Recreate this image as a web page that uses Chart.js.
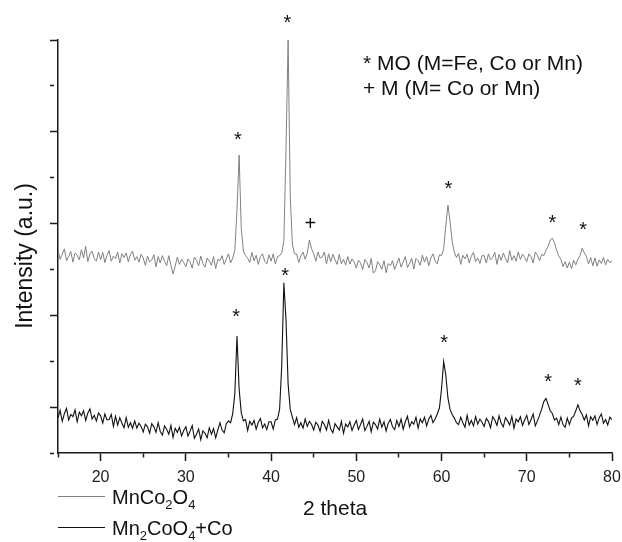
<!DOCTYPE html>
<html>
<head>
<meta charset="utf-8">
<script src="https://cdn.jsdelivr.net/npm/chart.js@4.4.1/dist/chart.umd.min.js"></script>
<style>
  body { margin: 0; background: #fff; }
  #wrap { width: 622px; height: 542px; }
</style>
</head>
<body>
<div id="wrap"><canvas id="xrd"></canvas></div>
<script>
// 2 theta grid of both scans (degrees)
const angleStart = 15;
const angleStep = 0.25;

// MnCo2O4, shifted up on the intensity axis (one degree per group of four)
const mnCo2O4 = [
  4.42, 4.22, 4.33, 4.45,  4.19, 4.28, 4.39, 4.16,  4.36, 4.31, 4.21, 4.43,  4.25, 4.50, 4.17, 4.34,  4.40, 4.24, 4.18, 4.38,
  4.21, 4.37, 4.15, 4.31,  4.41, 4.18, 4.29, 4.24,  4.38, 4.14, 4.34, 4.26,  4.36, 4.17, 4.32, 4.40,  4.20, 4.28, 4.16, 4.33,
  4.25, 4.09, 4.29, 4.16,  4.21, 4.32, 4.06, 4.28,  4.14, 4.30, 4.18, 4.08,  4.30, 4.09, 3.90, 4.07,  4.27, 4.11, 4.22, 4.15,
  4.06, 4.23, 4.17, 4.03,  4.27, 4.20, 4.08, 4.29,  4.13, 4.05, 4.25, 4.18,  4.09, 4.28, 4.02, 4.22,  4.19, 4.30, 4.11, 4.23,
  4.34, 4.14, 4.25, 4.42,  5.30, 6.49, 4.90, 4.40,  4.30, 4.25, 4.15, 4.37,  4.19, 4.31, 4.11, 4.28,  4.34, 4.18, 4.12, 4.32,
  4.18, 4.34, 4.12, 4.28,  4.30, 4.36, 4.62, 6.60,  9.00, 5.60, 4.55, 4.34,  4.34, 4.15, 4.30, 4.38,  4.22, 4.36, 4.64, 4.45,
  4.34, 4.18, 4.38, 4.25,  4.27, 4.38, 4.12, 4.34,  4.17, 4.33, 4.21, 4.11,  4.33, 4.12, 4.22, 4.10,  4.28, 4.12, 4.23, 4.16,
  4.03, 4.20, 4.14, 4.00,  4.22, 4.15, 4.03, 4.24,  3.92, 3.97, 4.17, 4.10,  4.00, 4.19, 3.93, 4.13,  4.08, 4.19, 4.00, 4.12,
  4.25, 4.05, 4.16, 4.28,  4.04, 4.13, 4.24, 4.01,  4.24, 4.19, 4.09, 4.31,  4.16, 4.28, 4.08, 4.25,  4.34, 4.18, 4.12, 4.32,
  4.30, 4.45, 4.95, 5.40,  5.05, 4.60, 4.38, 4.26,  4.35, 4.11, 4.31, 4.23,  4.33, 4.14, 4.29, 4.37,  4.17, 4.25, 4.13, 4.30,
  4.30, 4.14, 4.34, 4.21,  4.26, 4.37, 4.11, 4.33,  4.20, 4.36, 4.24, 4.14,  4.41, 4.20, 4.30, 4.18,  4.38, 4.22, 4.33, 4.26,
  4.17, 4.34, 4.28, 4.14,  4.38, 4.31, 4.19, 4.33,  4.30, 4.42, 4.50, 4.64,  4.68, 4.58, 4.42, 4.30,  4.22, 4.06, 4.17, 4.03,
  4.16, 4.02, 4.20, 4.10,  4.22, 4.30, 4.46, 4.36,  4.28, 4.12, 4.26, 4.08,  4.25, 4.07, 4.21, 4.13,  4.26, 4.10, 4.22, 4.15,
  4.18
];

// Mn2CoO4 + Co
const mn2CoO4Co = [
  0.76, 0.93, 0.69, 0.86,  0.97, 0.72, 0.84, 0.79,  0.94, 0.68, 0.89, 0.81,  0.92, 0.71, 0.87, 0.96,  0.74, 0.82, 0.70, 0.87,
  0.81, 0.65, 0.85, 0.72,  0.73, 0.84, 0.58, 0.80,  0.61, 0.77, 0.65, 0.55,  0.77, 0.56, 0.66, 0.54,  0.70, 0.54, 0.65, 0.58,
  0.46, 0.63, 0.57, 0.43,  0.64, 0.57, 0.45, 0.66,  0.47, 0.39, 0.59, 0.52,  0.41, 0.60, 0.34, 0.54,  0.45, 0.56, 0.37, 0.49,
  0.57, 0.37, 0.48, 0.60,  0.32, 0.41, 0.52, 0.29,  0.48, 0.43, 0.33, 0.55,  0.41, 0.53, 0.33, 0.50,  0.66, 0.50, 0.44, 0.64,
  0.70, 0.66, 0.86, 1.30,  2.55, 1.40, 0.88, 0.70,  0.73, 0.49, 0.69, 0.61,  0.71, 0.52, 0.67, 0.75,  0.55, 0.63, 0.51, 0.68,
  0.68, 0.52, 0.72, 0.74,  0.95, 1.90, 3.71, 2.90,  1.50, 0.95, 0.78, 0.62,  0.77, 0.56, 0.66, 0.54,  0.74, 0.58, 0.69, 0.62,
  0.50, 0.67, 0.61, 0.47,  0.69, 0.62, 0.50, 0.71,  0.52, 0.44, 0.64, 0.57,  0.50, 0.69, 0.43, 0.63,  0.57, 0.68, 0.49, 0.61,
  0.71, 0.51, 0.62, 0.74,  0.49, 0.58, 0.69, 0.46,  0.67, 0.62, 0.52, 0.74,  0.56, 0.68, 0.48, 0.65,  0.73, 0.57, 0.51, 0.71,
  0.58, 0.74, 0.52, 0.68,  0.80, 0.57, 0.68, 0.63,  0.78, 0.54, 0.74, 0.66,  0.78, 0.59, 0.74, 0.82,  0.66, 0.74, 0.85, 0.98,
  1.40, 1.99, 1.70, 1.20,  0.95, 0.84, 0.76, 0.66,  0.62, 0.78, 0.66, 0.56,  0.82, 0.61, 0.71, 0.59,  0.79, 0.63, 0.74, 0.67,
  0.58, 0.75, 0.69, 0.55,  0.79, 0.72, 0.60, 0.81,  0.65, 0.57, 0.77, 0.70,  0.61, 0.80, 0.54, 0.74,  0.68, 0.79, 0.60, 0.72,
  0.82, 0.62, 0.73, 0.85,  0.59, 0.70, 0.82, 0.96,  1.12, 1.19, 1.06, 0.92,  0.86, 0.72, 0.76, 0.62,  0.78, 0.62, 0.56, 0.76,
  0.62, 0.76, 0.80, 0.92,  1.05, 0.92, 0.84, 0.72,  0.83, 0.59, 0.79, 0.71,  0.81, 0.62, 0.77, 0.85,  0.65, 0.73, 0.61, 0.78,
  0.73
];

// phase markers over the reflections: symbol, 2 theta, height
const markSymbol = ['*', '*', '+', '*', '*', '*', '*', '*', '*', '*', '*'];
const markAngle  = [41.9, 36.1, 44.6, 60.8, 73.0, 76.6, 35.9, 41.65, 60.3, 72.5, 76.0];
const markHeight = [9.46, 6.91, 5.01, 5.85, 5.10, 4.95, 3.04, 3.94, 2.48, 1.63, 1.55];

const phaseKey = ['* MO (M=Fe, Co or Mn)', '+ M (M= Co or Mn)'];

// legend entries, [text, subscript?] pieces
const legendItems = [
  [['MnCo', false], ['2', true], ['O', false], ['4', true]],
  [['Mn', false], ['2', true], ['CoO', false], ['4', true], ['+Co', false]]
];

const xMin = 15, xMax = 80;
const yMin = 0, yMax = 9;

const family = "'Liberation Sans', Arial, sans-serif";
const axisColor = '#1a1a1a';
const seriesColors = ['#808080', '#111111'];

const toPoints = arr => arr.map((v, i) => ({ x: angleStart + i * angleStep, y: v }));

function drawRich(ctx, pieces, x, y) {
  let cx = x;
  pieces.forEach(([txt, sub]) => {
    ctx.font = (sub ? '13px ' : '20px ') + family;
    ctx.fillText(txt, cx, sub ? y + 5 : y);
    cx += ctx.measureText(txt).width;
  });
}

const decorations = {
  id: 'decorations',
  afterDraw(chart) {
    const { ctx, chartArea, scales } = chart;
    const sx = scales.x, sy = scales.y;
    ctx.save();
    ctx.fillStyle = '#111';

    // * and + above peaks
    ctx.textAlign = 'center';
    ctx.textBaseline = 'alphabetic';
    ctx.font = '20px ' + family;
    markSymbol.forEach((s, i) => {
      const m = ctx.measureText(s);
      const px = sx.getPixelForValue(markAngle[i]);
      const py = sy.getPixelForValue(markHeight[i]);
      ctx.fillText(s, px, py + (m.actualBoundingBoxAscent - m.actualBoundingBoxDescent) / 2);
    });

    // phase key
    ctx.textAlign = 'left';
    ctx.font = '21px ' + family;
    phaseKey.forEach((t, i) => ctx.fillText(t, chartArea.left + 305, chartArea.top + 30 + i * 25));

    // axis titles
    ctx.fillText('2 theta', 303, 515);
    ctx.save();
    ctx.translate(32, 256);
    ctx.rotate(-Math.PI / 2);
    ctx.textAlign = 'center';
    ctx.font = '23px ' + family;
    ctx.fillText('Intensity (a.u.)', 0, 0);
    ctx.restore();

    // legend
    legendItems.forEach((pieces, i) => {
      const ly = [496, 527][i];
      ctx.strokeStyle = seriesColors[i];
      ctx.lineWidth = 1;
      ctx.beginPath();
      ctx.moveTo(chartArea.left, ly + 0.5);
      ctx.lineTo(chartArea.left + 47, ly + 0.5);
      ctx.stroke();
      ctx.textAlign = 'left';
      drawRich(ctx, pieces, chartArea.left + 54, ly + 8);
    });
    ctx.restore();
  }
};

new Chart(document.getElementById('xrd'), {
  type: 'line',
  data: {
    datasets: [
      { label: 'MnCo2O4', data: toPoints(mnCo2O4), borderColor: seriesColors[0], borderWidth: 1, pointRadius: 0, tension: 0 },
      { label: 'Mn2CoO4+Co', data: toPoints(mn2CoO4Co), borderColor: seriesColors[1], borderWidth: 1.1, pointRadius: 0, tension: 0 }
    ]
  },
  options: {
    responsive: true,
    maintainAspectRatio: false,
    animation: false,
    layout: { padding: { top: 40, right: 10, bottom: 0, left: 0 } },
    plugins: { legend: { display: false }, tooltip: { enabled: false } },
    scales: {
      x: {
        type: 'linear',
        min: xMin, max: xMax,
        afterFit: s => { s.height = 89; s.paddingLeft = 0; s.paddingRight = 0; },
        border: { display: true, color: axisColor, width: 1.5 },
        grid: {
          drawOnChartArea: false, drawTicks: true, tickLength: 8,
          tickColor: axisColor, tickWidth: 1.5,
          tickBorderDash: c => (c.tick && c.tick.value % 10 === 0) ? [] : [4, 40]
        },
        ticks: {
          stepSize: 5, autoSkip: false, maxRotation: 0, padding: 7,
          color: '#222', font: { family: family, size: 16 },
          callback: v => v % 10 === 0 ? v : ''
        }
      },
      y: {
        type: 'linear',
        min: yMin, max: yMax,
        afterFit: s => { s.width = 58; s.paddingTop = 0; s.paddingBottom = 0; },
        border: { display: true, color: axisColor, width: 1.5 },
        grid: {
          drawOnChartArea: false, drawTicks: true, tickLength: 8,
          tickColor: axisColor, tickWidth: 1.5,
          tickBorderDash: c => (c.tick && c.tick.value % 2 === 1) ? [] : [4, 40]
        },
        ticks: { stepSize: 1, display: false }
      }
    }
  },
  plugins: [decorations]
});
</script>
</body>
</html>
